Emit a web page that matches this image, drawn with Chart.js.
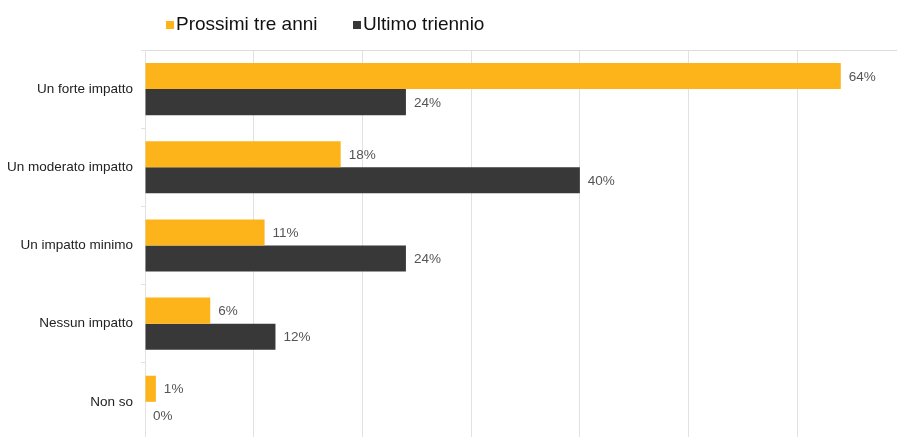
<!DOCTYPE html>
<html>
<head>
<meta charset="utf-8">
<script src="https://cdn.jsdelivr.net/npm/chart.js@4.4.1/dist/chart.umd.min.js"></script>
<style>
  html, body { margin: 0; padding: 0; background: #fff; overflow: hidden; }
  #wrap { position: relative; width: 906px; height: 457px; }
</style>
</head>
<body>
<div id="wrap"><canvas id="impactChart"></canvas></div>
<script>
const categories = ['Un forte impatto', 'Un moderato impatto', 'Un impatto minimo', 'Nessun impatto', 'Non so'];
const seriesNames = ['Prossimi tre anni', 'Ultimo triennio'];
const nextThreeYears = [64, 18, 11, 6, 1];
const lastThreeYears = [24, 40, 24, 12, 0];
const seriesColors = ['#FDB41B', '#383838'];

const FONT = '"Liberation Sans", Arial, sans-serif';

// value labels at the end of each bar
const valueLabels = {
    id: 'valueLabels',
    afterDatasetsDraw(chart) {
        const c = chart.ctx;
        c.save();
        c.font = '13.5px ' + FONT;
        c.fillStyle = '#555';
        c.textBaseline = 'middle';
        c.textAlign = 'left';
        chart.data.datasets.forEach((ds, i) => {
            chart.getDatasetMeta(i).data.forEach((bar, j) => {
                c.fillText(ds.data[j] + '%', bar.x + 8, bar.y + 1);
            });
        });
        c.restore();
    }
};

// legend drawn above the plot, left of centre
const topLegend = {
    id: 'topLegend',
    afterDraw(chart) {
        const c = chart.ctx;
        const slots = [166, 353];
        c.save();
        c.font = '19px ' + FONT;
        c.textBaseline = 'middle';
        chart.data.datasets.forEach((ds, i) => {
            c.fillStyle = ds.backgroundColor;
            c.fillRect(slots[i], 21, 8, 8);
            c.fillStyle = '#111';
            c.fillText(ds.label, slots[i] + 10, 25);
        });
        c.restore();
    }
};

new Chart(document.getElementById('impactChart'), {
    type: 'bar',
    data: {
        labels: categories,
        datasets: [
            { label: seriesNames[0], data: nextThreeYears, backgroundColor: seriesColors[0] },
            { label: seriesNames[1], data: lastThreeYears, backgroundColor: seriesColors[1] }
        ]
    },
    options: {
        indexAxis: 'y',
        responsive: true,
        maintainAspectRatio: false,
        animation: false,
        layout: { padding: { top: 50, right: 0, bottom: 0, left: 0 } },
        datasets: { bar: { barPercentage: 1, categoryPercentage: 0.667 } },
        plugins: { legend: { display: false }, tooltip: { enabled: false } },
        scales: {
            x: {
                position: 'top',
                min: 0,
                max: 70,
                ticks: { stepSize: 10, display: false },
                grid: { color: '#e2e2e2', drawTicks: false },
                border: { color: '#dcdcdc' },
                afterFit(scale) { scale.height = 0; }
            },
            y: {
                ticks: { color: '#222', font: { family: FONT, size: 13.5 }, padding: 8 },
                grid: { drawOnChartArea: false, tickLength: 4, color: '#e2e2e2' },
                border: { color: '#e2e2e2' },
                afterFit(scale) { scale.width = 145; }
            }
        }
    },
    plugins: [valueLabels, topLegend]
});
</script>
</body>
</html>
